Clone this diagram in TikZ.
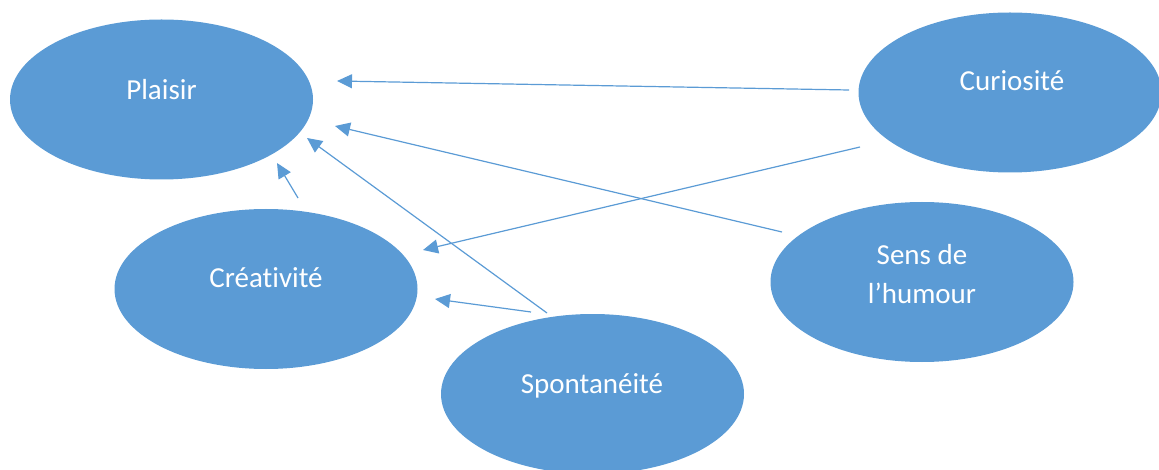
\documentclass[tikz,border=0pt]{standalone}
\usepackage{fontspec}
\setmainfont[RawFeature={-liga;-clig;-dlig;-calt}]{Carlito}
\usetikzlibrary{arrows.meta,shapes.geometric}
\definecolor{wordblue}{HTML}{5B9BD5}
\tikzset{
  blob/.style={ellipse, fill=wordblue, draw=none, inner sep=0pt,
               minimum width=303pt, minimum height=160pt},
  lbl/.style={text=white, font=\fontsize{29}{35.4}\selectfont, inner sep=0pt, anchor=base},
  link/.style={draw=wordblue, line width=1.2pt,
               -{Triangle[length=15pt,width=14pt]}},
}
\begin{document}
\begin{tikzpicture}[x=1pt,y=-1pt]
\useasboundingbox (0,0) rectangle (1159,470);

% bubbles
\node[blob] (plaisir)   at (161.5,99.5) {};
\node[blob] (curiosite) at (1010,92.5) {};
\node[blob] (creativite) at (266,289) {};
\node[blob] (humour)    at (922,282) {};
\node[blob] (spontan)   at (592.5,394) {};

% captions
\node[lbl] (tPlaisir) at (161.5,99.3) {Plaisir};
\node[lbl] (tCurio)   at (1012,90.7) {Curiosité};
\node[lbl] (tCrea)    at (266,288) {Créa{}ti{}vi{}té};
\node[lbl] (tHum1)    at (922,265) {Sens de};
\node[lbl] (tHum2)    at (922,303) {l’humour};
\node[lbl] (tSpont)   at (592,393) {Spontanéité};

% free connector ends
\coordinate (c1) at (849,90);   \coordinate (p1) at (337,81);
\coordinate (h1) at (782,232);  \coordinate (p2) at (335,126);
\coordinate (s1) at (547,313);  \coordinate (p3) at (307,138);
\coordinate (r1) at (298,198);  \coordinate (p4) at (277,163);
\coordinate (c2) at (860,147);  \coordinate (r2) at (423,250);
\coordinate (s2) at (531,312);  \coordinate (r3) at (435,299);

% connectors
\draw[link] (c1) -- (p1);
\draw[link] (h1) -- (p2);
\draw[link] (s1) -- (p3);
\draw[link] (r1) -- (p4);
\draw[link] (c2) -- (r2);
\draw[link] (s2) -- (r3);
\end{tikzpicture}
\end{document}
